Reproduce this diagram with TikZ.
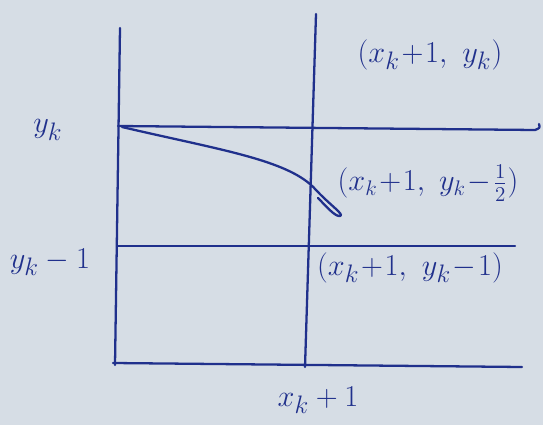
\documentclass[tikz,border=0pt]{standalone}
\begin{document}
\begin{tikzpicture}[x=0.02cm,y=-0.02cm,
  ink/.style={draw=inkblue,line width=1.3pt,line cap=round,line join=round},
  lab/.style={text=inkblue,font=\fontsize{19}{22}\selectfont,inner sep=1pt}]
\definecolor{inkblue}{RGB}{32,48,140}
\definecolor{paper}{RGB}{214,221,229}
\fill[paper] (0,0) rectangle (543,425);
\useasboundingbox (0,0) rectangle (543,425);
% grid lines
\coordinate (l1) at (120,28);   \coordinate (l2) at (115,365);
\coordinate (m1) at (316,14);   \coordinate (m2) at (305,367);
\coordinate (t1) at (118,126);  \coordinate (t2) at (535,130);
\coordinate (h1) at (118,246);  \coordinate (h2) at (515,246);
\coordinate (b1) at (113,363);  \coordinate (b2) at (522,367);
\draw[ink] (l1) -- (l2);
\draw[ink] (m1) -- (m2);
\draw[ink] (t1) -- (t2) .. controls (540,128) .. (539,124);
\draw[ink] (h1) -- (h2);
\draw[ink] (b1) -- (b2);
% curve
\coordinate (c0) at (122,127);
\coordinate (c1) at (316,190);
\coordinate (c2) at (340,216);
\draw[ink] (c0) .. controls (220,150) and (290,160) .. (c1)
  .. controls (330,205) and (345,215) .. (c2)
  .. controls (335,217) and (325,205) .. (318,198);
% labels
\node[lab] (p1) at (430,55) {$(x_k\!+\!1,\ y_k)$};
\node[lab,font=\fontsize{17}{20}\selectfont] (p2) at (428,183) {$(x_k\!+\!1,\ y_k\!-\!\frac{1}{2})$};
\node[lab] (p3) at (410,268) {$(x_k\!+\!1,\ y_k\!-\!1)$};
\node[lab] (yk) at (48,130) {$y_k$};
\node[lab] (yk1) at (50,262) {$y_k-1$};
\node[lab] (xk1) at (318,400) {$x_k+1$};
\end{tikzpicture}
\end{document}
